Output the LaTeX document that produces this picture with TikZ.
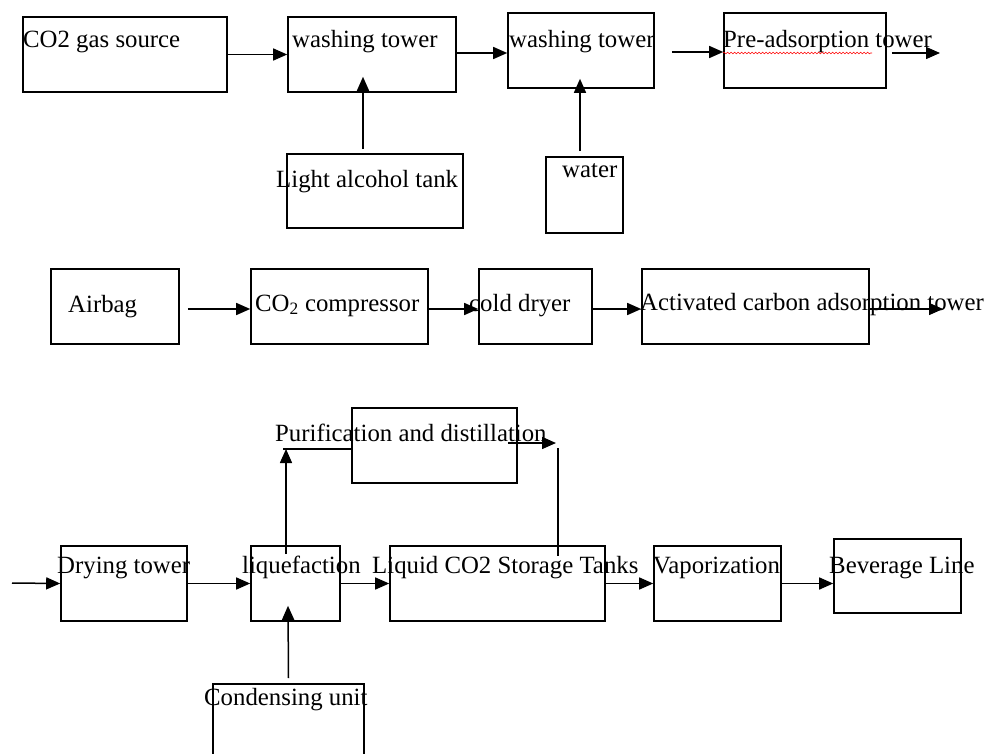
\documentclass[tikz,border=0pt]{standalone}
\usepackage{fontspec}
\setmainfont{Liberation Serif}
\usetikzlibrary{arrows.meta,fit,decorations.pathmorphing}

\tikzset{
  boite/.style={draw, line width=1.6pt, inner sep=0pt},
  etiq/.style={anchor=base west, inner sep=0pt, font=\fontsize{24.8}{30}\selectfont},
  fleche/.style={line width=1.5pt, -{Triangle[length=14pt,width=12pt]}},
  trait/.style={line width=1.5pt},
  souligne/.style={red, line width=0.6pt, decorate,
    decoration={snake, amplitude=0.8pt, segment length=3.5pt}}
}

\begin{document}
\begin{tikzpicture}[x=1pt, y=-1pt]
  \useasboundingbox (0,0) rectangle (991,753);
  \clip (0,0) rectangle (991,753);

  % Ligne 1 : lavage du gaz
  \node[boite, fit={(23,17) (227,92)}] (source) {};
  \node[boite, fit={(288,17) (456,92)}] (lav1) {};
  \node[boite, fit={(508,13) (654,88)}] (lav2) {};
  \node[boite, fit={(724,13) (886,88)}] (pre) {};
  \node[boite, fit={(287,154) (463,228)}] (alcool) {};
  \node[boite, fit={(546,157) (623,233)}] (eau) {};
  \coordinate (sortie1) at (940,53);

  \node[etiq] (t-source) at (23,47) {CO2 gas source};
  \node[etiq] (t-lav1) at (292,47) {washing tower};
  \node[etiq] (t-lav2) at (509,47) {washing tower};
  \node[etiq] (t-pre) at (723,47) {Pre-adsorption tower};
  \node[etiq] (t-alcool) at (276,187) {Light alcohol tank};
  \node[etiq] (t-eau) at (562,177) {water};
  \draw[souligne] ([yshift=-6pt]t-pre.base west) -- ++(149,0);

  \draw[fleche] (source.east) -- (lav1.west);
  \draw[fleche] ([yshift=1.5pt]lav1.east) -- ([yshift=1.5pt]lav1.east -| lav2.west);
  \draw[fleche] ([xshift=17pt,yshift=-1.5pt]lav2.east) -- ([yshift=-1.5pt]pre.west);
  \draw[fleche] ([xshift=5pt]pre.east |- sortie1) -- (sortie1);
  \draw[fleche] ([xshift=-12pt,yshift=4pt]alcool.north) -- ([xshift=-9pt,yshift=16pt]lav1.south);
  \draw[fleche] ([xshift=-4.5pt,yshift=5pt]eau.north) -- ([xshift=-1pt,yshift=10pt]lav2.south);

  % Ligne 2 : compression et adsorption
  \node[boite, fit={(51,269) (179,344)}] (sac) {};
  \node[boite, fit={(251,269) (428,344)}] (comp) {};
  \node[boite, fit={(479,269) (592,344)}] (froid) {};
  \node[boite, fit={(642,269) (869,344)}] (charbon) {};
  \coordinate (sortie2) at (943,309);

  \node[etiq] (t-sac) at (68,312) {Airbag};
  \node[etiq] (t-comp) at (255,311) {CO\textsubscript{2} compressor};
  \node[etiq] (t-froid) at (469,311) {cold dryer};
  \node[etiq] (t-charbon) at (640,310) {Activated carbon adsorption tower};

  \draw[fleche] ([xshift=8pt,yshift=-2.5pt]sac.east) -- ([yshift=-2.5pt]comp.west);
  \draw[fleche] ([yshift=-2.5pt]comp.east) -- ([yshift=-2.5pt]froid.west);
  \draw[fleche] ([yshift=-2.5pt]froid.east) -- ([yshift=-2.5pt]charbon.west);
  \draw[fleche] (charbon.east |- sortie2) -- (sortie2);

  % Ligne 3 : liquéfaction et stockage
  \node[boite, fit={(352,408) (517,483)}] (purif) {};
  \node[boite, fit={(61,546) (187,621)}] (sechage) {};
  \node[boite, fit={(251,546) (340,621)}] (liq) {};
  \node[boite, fit={(390,546) (605,621)}] (stock) {};
  \node[boite, fit={(654,546) (781,621)}] (vap) {};
  \node[boite, fit={(834,539) (961,613)}] (boisson) {};
  \node[boite, fit={(213,684) (364,800)}] (cond) {};
  \coordinate (entree) at (12,583);
  \coordinate (coin1) at (286,449);
  \coordinate (coin2) at (556,443);
  \coordinate (coin3) at (558,448);

  \node[etiq] (t-purif) at (275,441) {Purification and distillation};
  \node[etiq] (t-sechage) at (57,573) {Drying tower};
  \node[etiq] (t-liq) at (242,573) {liquefaction};
  \node[etiq] (t-stock) at (372,573) {Liquid CO2 Storage Tanks};
  \node[etiq] (t-vap) at (653,573) {Vaporization};
  \node[etiq] (t-boisson) at (829,573) {Beverage Line};
  \node[etiq] (t-cond) at (204,705) {Condensing unit};

  \draw[fleche] (entree) -- (sechage.west);
  \draw[fleche] (sechage.east) -- (liq.west);
  \draw[fleche] (liq.east) -- (stock.west);
  \draw[fleche] (stock.east) -- (vap.west);
  \draw[fleche] (vap.east) -- (vap.east -| boisson.west);
  \draw[fleche] ([xshift=-9.5pt,yshift=-9pt]liq.north) -- (coin1);
  \draw[trait] ([xshift=-3pt]coin1) -- (coin1 -| purif.west);
  \draw[fleche] ([xshift=-10pt,yshift=2.5pt]purif.east) -- (coin2);
  \draw[trait] (coin3) -- ([yshift=-11pt]coin3 |- stock.north);
  \draw[fleche] ([yshift=5pt]cond.north) -- ([xshift=-7.5pt,yshift=16pt]liq.south);
\end{tikzpicture}
\end{document}
